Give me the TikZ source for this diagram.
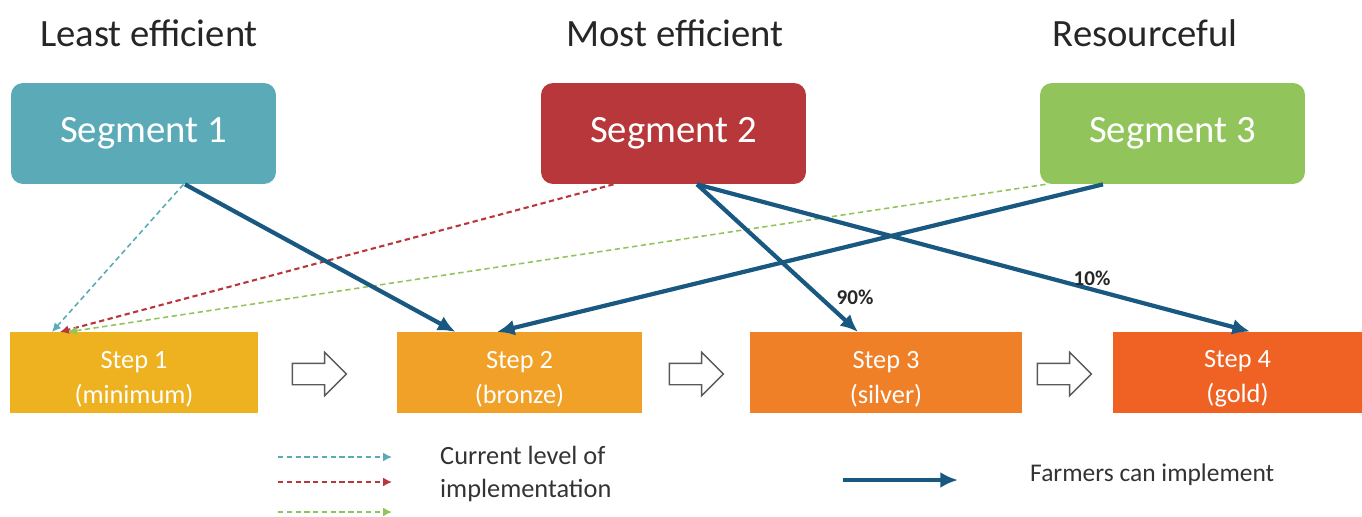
\documentclass[tikz,border=0pt]{standalone}
\usepackage{fontspec}
\setmainfont{Carlito}
\usetikzlibrary{arrows.meta, calc, shapes.arrows}

\definecolor{segteal}{RGB}{91,170,183}
\definecolor{segred}{RGB}{183,55,58}
\definecolor{seggreen}{RGB}{146,196,92}
\definecolor{stepA}{RGB}{238,177,32}
\definecolor{stepB}{RGB}{241,160,40}
\definecolor{stepC}{RGB}{240,128,40}
\definecolor{stepD}{RGB}{240,98,35}
\definecolor{canblue}{RGB}{25,88,128}

\tikzset{
  title/.style={text=black!85, font=\fontsize{22}{26}\selectfont},
  segment/.style={rounded corners=0.24cm, minimum width=5.3cm, minimum height=2.02cm,
    text=white, font=\fontsize{22}{26}\selectfont},
  stepbox/.style={minimum height=1.58cm, text=white, align=center, text height=37pt,
    font=\fontsize{15}{20}\selectfont},
  nextstep/.style={single arrow, draw=black!65, fill=white, line width=0.8pt,
    minimum height=1.08cm, inner sep=0.2cm, single arrow head extend=0.22cm},
  can/.style={draw=canblue, line width=2.4pt, -{Latex[length=10pt,width=9pt]}},
  now/.style={line width=0.9pt, dash pattern=on 3pt off 2pt, -{Latex[length=5pt,width=5pt]}},
  share/.style={font=\bfseries\fontsize{12}{14}\selectfont, text=black!85},
  legendtext/.style={anchor=west, align=left, text=black!80, font=\fontsize{15}{19}\selectfont}
}

\begin{document}
\begin{tikzpicture}[x=0.02cm, y=-0.02cm]
        \useasboundingbox (0,0) rectangle (1362,517);

        % segments
        \node[title] (t1) at (149,33) {Least efficient};
        \node[title] (t2) at (675,33) {Most efficient};
        \node[title] (t3) at (1145,33) {Resourceful};

        \node[segment, fill=segteal] (seg1) at (143.5,133.5) {Segment 1};
        \node[segment, fill=segred] (seg2) at (673.5,133.5) {Segment 2};
        \node[segment, fill=seggreen] (seg3) at (1172.5,133.5) {Segment 3};

        % steps
        \node[stepbox, fill=stepA, minimum width=4.96cm] (st1) at (134,372.5) {Step 1\\(minimum)};
        \node[stepbox, fill=stepB, minimum width=4.9cm] (st2) at (519.5,372.5) {Step 2\\(bronze)};
        \node[stepbox, fill=stepC, minimum width=5.44cm] (st3) at (886,372.5) {Step 3\\(silver)};
        \node[stepbox, fill=stepD, minimum width=4.98cm] (st4) at (1237.5,372.5) {Step 4\\(gold)};

        \node[nextstep] (n12) at (314,374) {};
        \node[nextstep] (n23) at (691,374) {};
        \node[nextstep] (n34) at (1059,374) {};

        % current level
        \draw[now, segteal] ($(seg1.south)+(40,0)$) -- ($(st1.north)+(-82,0)$);
        \draw[now, segred, line width=1.2pt] ($(seg2.south)+(-60,0)$) -- ($(st1.north)+(-74,0)$);
        \draw[now, seggreen] ($(seg3.south)+(-127,0)$) -- ($(st1.north)+(-66,0)$);

        % what farmers can do
        \draw[can] ($(seg1.south)+(41.5,0)$) -- ($(st2.north)+(-64,0)$);
        \draw[can] ($(seg3.south)+(-69.5,0)$) -- ($(st2.north)+(-22.5,0)$);
        \draw[can] ($(seg2.south)+(23.5,0)$) -- ($(st3.north)+(-28,0)$);
        \draw[can] ($(seg2.south)+(23.5,0)$) -- ($(st4.north)+(12.5,0)$);

        \node[share] (p90) at (855,297) {90\%};
        \node[share] (p10) at (1092,278) {10\%};

        % legend
        \coordinate (l1a) at (278,457); \coordinate (l1b) at (392,457);
        \coordinate (l2a) at (278,482); \coordinate (l2b) at (392,482);
        \coordinate (l3a) at (278,512); \coordinate (l3b) at (392,512);
        \draw[now, segteal] (l1a) -- (l1b);
        \draw[now, segred] (l2a) -- (l2b);
        \draw[now, seggreen] (l3a) -- (l3b);
        \node[legendtext] (lnow) at (434,474) {Current level of\\implementation};

        \coordinate (l4a) at (843,480); \coordinate (l4b) at (958,480);
        \draw[can, line width=2pt] (l4a) -- (l4b);
        \node[legendtext, font=\fontsize{14.5}{18}\selectfont] (lcan) at (1024,475) {Farmers can implement};
\end{tikzpicture}
\end{document}
